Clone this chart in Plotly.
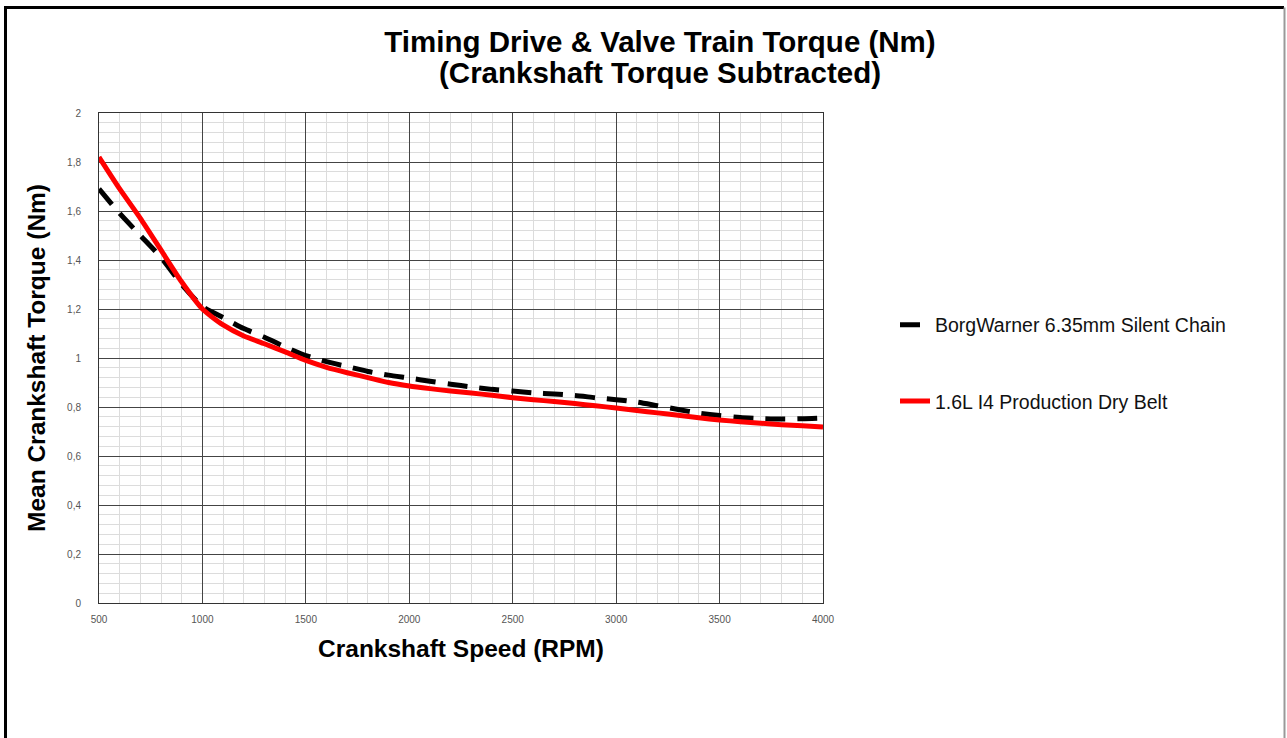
import plotly.graph_objects as go

rpm = [500, 600, 700, 800, 900, 1000, 1100, 1200, 1300, 1400, 1500, 1600, 1700, 1800,
       1900, 2000, 2100, 2200, 2300, 2400, 2500, 2600, 2700, 2800, 2900, 3000, 3100,
       3200, 3300, 3400, 3500, 3600, 3700, 3800, 3900, 4000]

chain_torque = [1.69, 1.59, 1.50, 1.41, 1.30, 1.21, 1.165, 1.12, 1.085, 1.045, 1.01, 0.985,
                0.965, 0.945, 0.93, 0.918, 0.905, 0.893, 0.882, 0.872, 0.865, 0.858, 0.853,
                0.847, 0.838, 0.83, 0.82, 0.805, 0.79, 0.775, 0.765, 0.757, 0.753, 0.751,
                0.752, 0.755]

belt_torque = [1.82, 1.69, 1.57, 1.44, 1.31, 1.20, 1.135, 1.09, 1.058, 1.025, 0.99, 0.962,
               0.94, 0.92, 0.90, 0.886, 0.875, 0.865, 0.857, 0.848, 0.838, 0.83, 0.822,
               0.814, 0.805, 0.796, 0.786, 0.776, 0.766, 0.756, 0.747, 0.74, 0.734, 0.728,
               0.723, 0.718]

series_names = ["BorgWarner 6.35mm Silent Chain", "1.6L I4 Production Dry Belt"]

x_ticks = [500, 1000, 1500, 2000, 2500, 3000, 3500, 4000]
x_tick_labels = ["500", "1000", "1500", "2000", "2500", "3000", "3500", "4000"]
y_ticks = [0, 0.2, 0.4, 0.6, 0.8, 1.0, 1.2, 1.4, 1.6, 1.8, 2.0]
y_tick_labels = ["0", "0,2", "0,4", "0,6", "0,8", "1", "1,2", "1,4", "1,6", "1,8", "2"]

title_line1 = "Timing Drive & Valve Train Torque (Nm)"
title_line2 = "(Crankshaft Torque Subtracted)"

W, H = 1287, 738
L, R, T, B = 99, 823, 113, 603
pw, ph = R - L, B - T

def px(xp):
    return (xp - L) / pw

def py(yp):
    return (B - yp) / ph

fig = go.Figure()
fig.add_trace(go.Scatter(
    x=rpm, y=chain_torque, mode="lines", name=series_names[0], legendgroup="a",
    line=dict(color="black", width=5, dash="20px,12px", shape="spline", smoothing=0.6),
))
fig.add_trace(go.Scatter(
    x=rpm, y=belt_torque, mode="lines", name=series_names[1], legendgroup="b",
    line=dict(color="#ff0000", width=5, shape="spline", smoothing=0.6),
))

axis_font = dict(family="Liberation Sans, Arial, sans-serif", size=10, color="#555")
title_font = dict(family="Liberation Sans, Arial, sans-serif", size=24.5, color="black")
head_font = dict(family="Liberation Sans, Arial, sans-serif", size=29.5, color="black")

fig.update_layout(
    width=W, height=H,
    margin=dict(l=L, r=W - R, t=T, b=H - B),
    paper_bgcolor="white", plot_bgcolor="white",
    title=dict(
        text="<b>" + title_line1 + "</b>",
        x=660 / W, xanchor="center", y=1 - 42 / H, yanchor="middle",
        font=head_font,
    ),
    xaxis=dict(
        range=[500, 4000], tickvals=x_ticks, ticktext=x_tick_labels,
        tickfont=axis_font, showgrid=True, gridcolor="#444", gridwidth=1,
        minor=dict(dtick=100, showgrid=True, gridcolor="#dcdcdc", gridwidth=1),
        showline=True, linecolor="#333", linewidth=1, mirror=True,
        zeroline=False, ticks="", ticklen=0, ticklabelstandoff=7,
        title=dict(text="<b>Crankshaft Speed (RPM)</b>", font=title_font, standoff=15),
    ),
    yaxis=dict(
        range=[0, 2], tickvals=y_ticks, ticktext=y_tick_labels,
        tickfont=axis_font, showgrid=True, gridcolor="#444", gridwidth=1,
        minor=dict(dtick=0.04, showgrid=True, gridcolor="#dcdcdc", gridwidth=1),
        showline=True, linecolor="#333", linewidth=1, mirror=True,
        zeroline=False, ticks="", ticklen=0, ticklabelstandoff=15,
        title=dict(text="<b>Mean Crankshaft Torque (Nm)</b>", font=title_font, standoff=14),
    ),
    legend=dict(
        x=px(895), y=py(363), xanchor="left", yanchor="middle",
        font=dict(family="Liberation Sans, Arial, sans-serif", size=19.5, color="#111"),
        traceorder="grouped", tracegroupgap=48, bgcolor="rgba(0,0,0,0)",
    ),
    showlegend=True,
)

fig.add_annotation(
    text="<b>" + title_line2 + "</b>", xref="paper", yref="paper",
    x=px(660), y=py(73), xanchor="center", yanchor="middle",
    showarrow=False, font=head_font,
)

# outer frame of the picture
fig.add_shape(type="line", xref="paper", yref="paper",
              x0=px(5.5), x1=px(5.5), y0=py(6), y1=py(800),
              line=dict(color="black", width=3))
fig.add_shape(type="line", xref="paper", yref="paper",
              x0=px(4), x1=px(1284), y0=py(7.5), y1=py(7.5),
              line=dict(color="black", width=3))
fig.add_shape(type="line", xref="paper", yref="paper",
              x0=px(1284.5), x1=px(1284.5), y0=py(7.5), y1=py(800),
              line=dict(color="#999", width=2))

fig.write_html(
    "out.html",
    config={"displayModeBar": False},
    post_script="document.body.style.margin='0';document.body.style.overflow='hidden';",
)
